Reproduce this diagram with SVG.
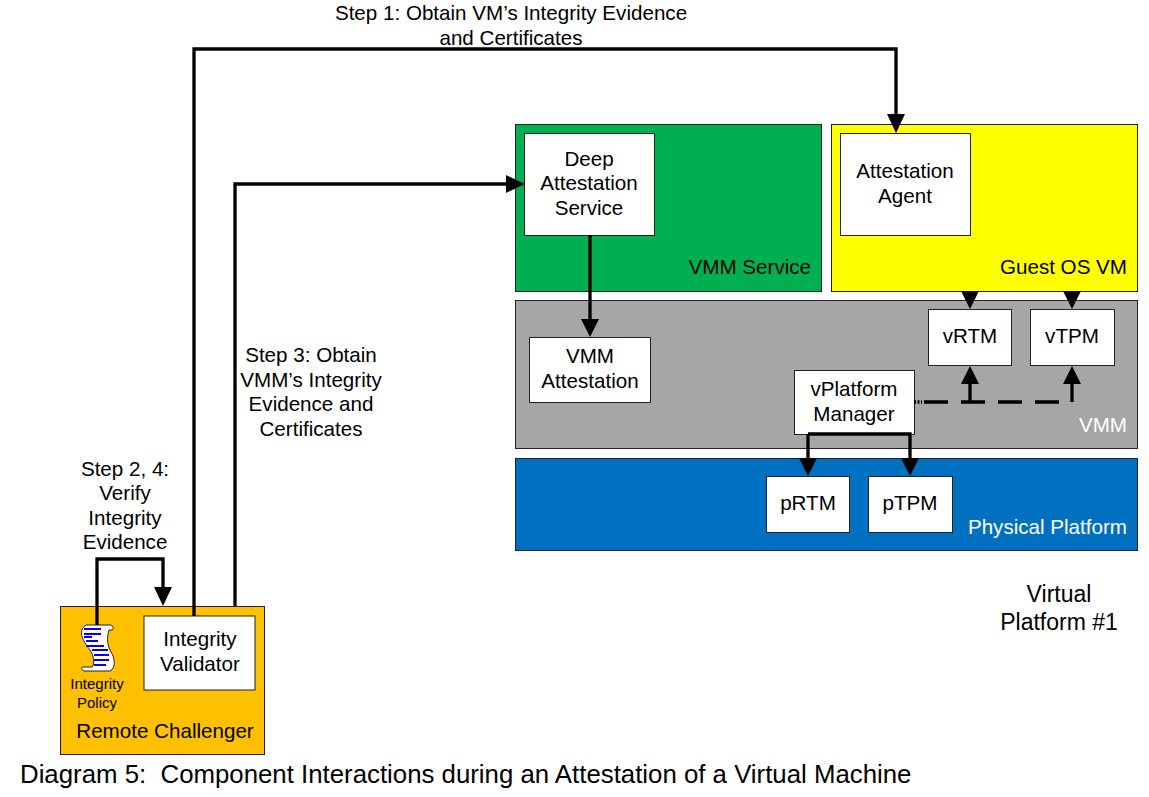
<svg xmlns="http://www.w3.org/2000/svg" width="1149" height="797" viewBox="0 0 1149 797">
<style>
text{font-family:"Liberation Sans",Arial,sans-serif;font-size:20.600px;fill:#000;text-anchor:middle}
.box{stroke:#222;stroke-width:1}
.w{fill:#fff}
.c{fill:none;stroke:#000;stroke-width:3.300}
.h{fill:#000;stroke:none}
.e{text-anchor:end}
.title{font-size:25.800px;text-anchor:start;white-space:pre}
</style>
<rect width="1149" height="797" fill="#fff"/>
<g id="vmm-service"><rect class="box" x="515.500" y="124.500" width="306" height="167" fill="#00b050"/><text class="e" x="811" y="274">VMM Service</text></g>
<g id="guest-os-vm"><rect class="box" x="831.500" y="124.500" width="306" height="167" fill="#ffff00"/><text class="e" x="1127" y="274">Guest OS VM</text></g>
<g id="vmm"><rect class="box" x="515.500" y="300.500" width="622" height="148" fill="#a6a6a6"/><text class="e" x="1127" y="432" style="fill:#fff">VMM</text></g>
<g id="physical-platform"><rect class="box" x="515.500" y="458.500" width="622" height="92" fill="#0070c0"/><text class="e" x="1127" y="534" style="fill:#fff">Physical Platform</text></g>
<g id="remote-challenger"><rect class="box" x="60.500" y="606.500" width="204" height="148" fill="#ffc000"/><text x="165" y="738">Remote Challenger</text></g>
<g id="deep-attestation-service"><rect class="box w" x="524.500" y="133.500" width="130" height="102"/><text x="589" y="166">Deep</text><text x="589" y="190">Attestation</text><text x="589" y="215">Service</text></g>
<g id="attestation-agent"><rect class="box w" x="840.500" y="133.500" width="130" height="102"/><text x="905" y="178">Attestation</text><text x="905" y="203">Agent</text></g>
<g id="vmm-attestation"><rect class="box w" x="529.500" y="337.500" width="121" height="65"/><text x="590" y="363">VMM</text><text x="590" y="388">Attestation</text></g>
<g id="vrtm"><rect class="box w" x="928.500" y="309.500" width="83" height="56"/><text x="970" y="343">vRTM</text></g>
<g id="vtpm"><rect class="box w" x="1030.500" y="309.500" width="84" height="56"/><text x="1072" y="343">vTPM</text></g>
<g id="vplatform-manager"><rect class="box w" x="794.500" y="370.500" width="120" height="64"/><text x="854" y="396">vPlatform</text><text x="854" y="421">Manager</text></g>
<g id="prtm"><rect class="box w" x="766.500" y="476.500" width="83" height="56"/><text x="808" y="510">pRTM</text></g>
<g id="ptpm"><rect class="box w" x="868.500" y="476.500" width="84" height="56"/><text x="910" y="510">pTPM</text></g>
<g id="integrity-validator"><rect class="box w" x="144" y="616" width="111" height="74"/><text x="200" y="646">Integrity</text><text x="200" y="671">Validator</text></g>
<g id="integrity-policy">
<path d="M86 625H108C114 624 114 630 112 630H109C106 640 108 646 111 652C115 658 116 668 110 671H84C81 670 81 667 83 667H92C95 664 94 656 90 650C85 643 76 632 86 625Z" fill="#fff" stroke="#222" stroke-width="1"/>
<path d="M84 629H101M84 634H101M84 637H92M86 641H98M86 646H104M92 650H108M94 655H109M94 660H109M94 665H106" stroke="#0000ff" stroke-width="1.800" fill="none"/>
<text x="97" y="689" style="font-size:15px">Integrity</text><text x="97" y="708" style="font-size:15px">Policy</text>
</g>
<g id="connectors">
<path class="c" d="M194 616V49H896V122"/><path class="h" d="M887 114H905L896 133Z"/>
<path class="c" d="M235 606V184H516"/><path class="h" d="M506 175V193L525 184Z"/>
<path class="c" d="M97 625V559H163V596"/><path class="h" d="M154 587H172L163 606Z"/>
<path class="c" d="M590 235V328"/><path class="h" d="M581 319H599L590 337Z"/>
<path class="c" d="M970 291V300"/><path class="h" d="M961 291H979L970 309Z"/>
<path class="c" d="M1072 291V300"/><path class="h" d="M1063 291H1081L1072 309Z"/>
<path class="c" d="M970 402V375"/><path class="h" d="M961 384H979L970 366Z"/>
<path class="c" d="M1072 402V375"/><path class="h" d="M1063 384H1081L1072 366Z"/>
<path class="c" d="M914 402H922" stroke-dasharray="2 1.500"/><path class="c" d="M924 402H1059" stroke-dasharray="24 13"/>
<path class="c" d="M808 434V467M808 434H910V467"/><path class="h" d="M799 458H817L808 476Z"/><path class="h" d="M901 458H919L910 476Z"/>
</g>
<g id="labels">
<text x="511" y="20">Step 1: Obtain VM’s Integrity Evidence</text><text x="511" y="45">and Certificates</text>
<text x="311" y="362">Step 3: Obtain</text><text x="311" y="387">VMM’s Integrity</text><text x="311" y="411">Evidence and</text><text x="311" y="436">Certificates</text>
<text x="125" y="476">Step 2, 4:</text><text x="125" y="500">Verify</text><text x="125" y="525">Integrity</text><text x="125" y="549">Evidence</text>
<text x="1059" y="602" style="font-size:23px">Virtual</text><text x="1059" y="630" style="font-size:23px">Platform #1</text>
<text class="title" x="20" y="783">Diagram 5:  Component Interactions during an Attestation of a Virtual Machine</text>
</g>
</svg>
